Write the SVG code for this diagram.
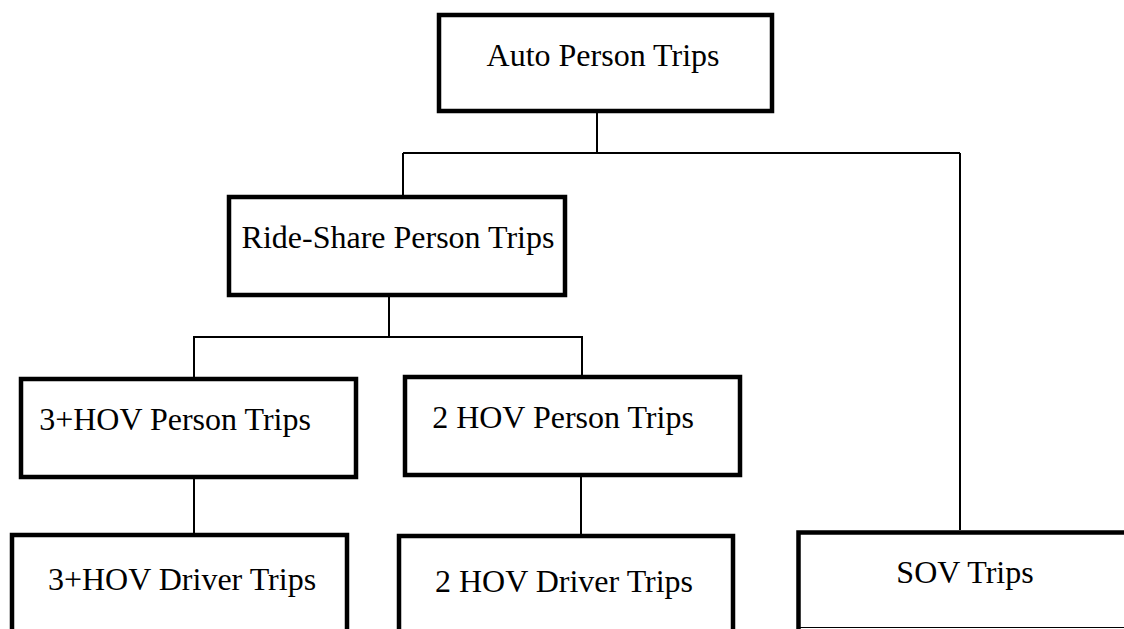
<svg xmlns="http://www.w3.org/2000/svg" width="1124" height="629" viewBox="0 0 1124 629">
<style>
.box{fill:#fff;stroke:#000;stroke-width:4.5}
.lbl{font-family:"Liberation Serif","Times New Roman",serif;font-size:32px;fill:#000;text-anchor:middle}
.conn{fill:none;stroke:#000;stroke-width:2}
</style>
<rect width="1124" height="629" fill="#fff"/>
<g id="connectors">
<path class="conn" d="M597,113 V153 M403,153 H960 M403,153 V195 M960,153 V530"/>
<path class="conn" d="M389,297 V337 M193,337 H583 M194,337 V377 M582,337 V375"/>
<path class="conn" d="M194,479 V533"/>
<path class="conn" d="M581,477 V534"/>
</g>
<g id="auto">
<rect class="box" x="439" y="15" width="333" height="96"/>
<text class="lbl" x="603" y="66">Auto Person Trips</text>
</g>
<g id="rideshare">
<rect class="box" x="229" y="197" width="336" height="98"/>
<text class="lbl" x="398" y="248">Ride-Share Person Trips</text>
</g>
<g id="hov3person">
<rect class="box" x="21" y="379" width="335" height="98"/>
<text class="lbl" x="175" y="430">3+HOV Person Trips</text>
</g>
<g id="hov2person">
<rect class="box" x="405" y="377" width="335" height="98"/>
<text class="lbl" x="563" y="428">2 HOV Person Trips</text>
</g>
<g id="hov3driver">
<rect class="box" x="12" y="535" width="335" height="120"/>
<text class="lbl" x="182" y="590">3+HOV Driver Trips</text>
</g>
<g id="hov2driver">
<rect class="box" x="399" y="536" width="334" height="120"/>
<text class="lbl" x="564" y="592">2 HOV Driver Trips</text>
</g>
<g id="sov">
<path d="M798.5,629 V532.5 H1130" fill="none" stroke="#000" stroke-width="4.5"/>
<path d="M798,627.5 H1124" fill="none" stroke="#000" stroke-width="1"/>
<text class="lbl" x="965" y="583">SOV Trips</text>
</g>
</svg>
